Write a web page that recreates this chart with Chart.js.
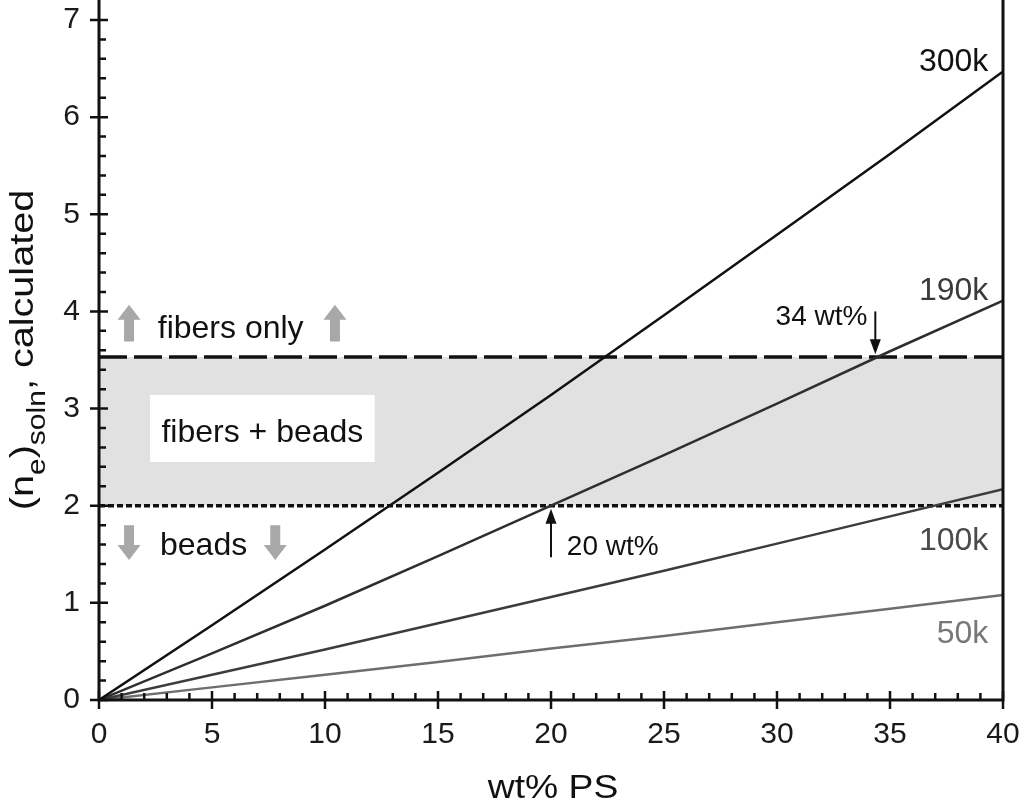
<!DOCTYPE html>
<html><head><meta charset="utf-8">
<script src="https://cdn.jsdelivr.net/npm/chart.js@4/dist/chart.umd.min.js"></script>
<style>html,body{margin:0;padding:0;background:#fff}#wrap{width:1026px;height:807px}</style>
</head><body><div id="wrap"><canvas id="c" width="1026" height="807"></canvas></div>
<script>
// ---- data ----
const wtPS   = [0, 5, 10, 15, 20, 25, 30, 35, 40];
const ne300k = [0, 0.77, 1.55, 2.34, 3.14, 3.96, 4.79, 5.62, 6.47];
const ne190k = [0, 0.48, 0.97, 1.48, 2.00, 2.52, 3.05, 3.59, 4.11];
const ne100k = [0, 0.26, 0.52, 0.79, 1.06, 1.33, 1.61, 1.89, 2.17];
const ne50k  = [0, 0.13, 0.26, 0.39, 0.53, 0.66, 0.80, 0.94, 1.08];
const seriesNames = ['300k', '190k', '100k', '50k'];
const fibersOnlyLevel = 3.53;
const beadsLevel = 2.0;
const bandRange = [0, 40];
const xTickValues = [0, 5, 10, 15, 20, 25, 30, 35, 40];
const yTickValues = [0, 1, 2, 3, 4, 5, 6, 7];
const annot34 = 34.35;
const annot20 = 20;

const FONT = '"Liberation Sans", Arial, sans-serif';
const toXY = (xs, ys) => xs.map((x, i) => ({x: x, y: ys[i]}));
const flat = (v) => bandRange.map(x => ({x: x, y: v}));

const seriesVals = [ne300k, ne190k, ne100k, ne50k];
const seriesColors = ['#111111', '#2e2e2e', '#3c3c3c', '#6e6e6e'];
const labelColors = ['#111111', '#3a3a3a', '#4a4a4a', '#777777'];

const datasets = [
  {label: 'fibers only', data: flat(fibersOnlyLevel), borderColor: '#111', borderWidth: 3.5,
   borderDash: [28, 7], fill: '+1', backgroundColor: '#e1e1e1', pointRadius: 0, order: 10},
  {label: 'beads', data: flat(beadsLevel), borderColor: '#111', borderWidth: 3.5,
   borderDash: [6, 3], fill: false, pointRadius: 0, order: 9}
];
seriesNames.forEach((n, i) => datasets.push({
  label: n, data: toXY(wtPS, seriesVals[i]), borderColor: seriesColors[i],
  borderWidth: 2.5, pointRadius: 0, fill: false, tension: 0, order: 1 + i
}));

function blockArrow(ctx, cx, yTail, yTip, color) {
  const dir = yTip < yTail ? -1 : 1;
  const head = 15, hw = 11.5, sw = 5;
  const yNeck = yTip - dir * head;
  ctx.save();
  ctx.fillStyle = color;
  ctx.beginPath();
  ctx.moveTo(cx - sw, yTail);
  ctx.lineTo(cx - sw, yNeck);
  ctx.lineTo(cx - hw, yNeck);
  ctx.lineTo(cx, yTip);
  ctx.lineTo(cx + hw, yNeck);
  ctx.lineTo(cx + sw, yNeck);
  ctx.lineTo(cx + sw, yTail);
  ctx.closePath();
  ctx.fill();
  ctx.restore();
}
function thinArrow(ctx, cx, yTail, yTip) {
  const dir = yTip < yTail ? -1 : 1;
  ctx.save();
  ctx.strokeStyle = '#111'; ctx.fillStyle = '#111'; ctx.lineWidth = 2;
  ctx.beginPath(); ctx.moveTo(cx, yTail); ctx.lineTo(cx, yTip - dir * 10); ctx.stroke();
  ctx.beginPath(); ctx.moveTo(cx - 5.5, yTip - dir * 15); ctx.lineTo(cx, yTip); ctx.lineTo(cx + 5.5, yTip - dir * 15);
  ctx.closePath(); ctx.fill();
  ctx.restore();
}

const decor = {
  id: 'decor',
  afterDatasetsDraw(chart) {
    const ctx = chart.ctx, xs = chart.scales.x, ys = chart.scales.y;
    const X = v => xs.getPixelForValue(v), Y = v => ys.getPixelForValue(v);
    const a = chart.chartArea;
    ctx.save();
    // white box with "fibers + beads"
    ctx.fillStyle = '#fff';
    ctx.fillRect(X(2.26), Y(3.14), X(12.2) - X(2.26), Y(2.45) - Y(3.14));
    ctx.fillStyle = '#111';
    ctx.font = '32px ' + FONT;
    ctx.textAlign = 'center'; ctx.textBaseline = 'alphabetic';
    ctx.fillText('fibers + beads', (X(2.26) + X(12.2)) / 2, Y(2.66));
    ctx.textAlign = 'left';
    ctx.fillText('fibers only', X(2.6), Y(3.73));
    ctx.fillText('beads', X(2.7), Y(1.49));
    // gray arrows
    blockArrow(ctx, X(1.33), Y(3.69), Y(4.07), '#a8a8a8');
    blockArrow(ctx, X(10.44), Y(3.69), Y(4.07), '#a8a8a8');
    blockArrow(ctx, X(1.33), Y(1.80), Y(1.44), '#a8a8a8');
    blockArrow(ctx, X(7.8), Y(1.80), Y(1.44), '#a8a8a8');
    // annotations
    ctx.font = '28px ' + FONT; ctx.fillStyle = '#111';
    ctx.textAlign = 'right';
    ctx.fillText('34 wt%', X(34.0), Y(3.86));
    thinArrow(ctx, X(annot34), Y(4.0), Y(fibersOnlyLevel + 0.03));
    ctx.textAlign = 'left';
    ctx.fillText('20 wt%', X(20.7), Y(1.49));
    thinArrow(ctx, X(annot20), Y(1.47), Y(beadsLevel - 0.03));
    // series labels
    ctx.font = '32px ' + FONT; ctx.textAlign = 'right';
    const lblY = [6.47, 4.12, 1.545, 0.587];
    seriesNames.forEach((n, i) => { ctx.fillStyle = labelColors[i]; ctx.fillText(n, X(39.35), Y(lblY[i])); });
    // axes frame
    ctx.strokeStyle = '#111'; ctx.lineWidth = 3; ctx.lineCap = 'butt';
    ctx.beginPath();
    ctx.moveTo(a.left, 0); ctx.lineTo(a.left, a.bottom + 1.5);
    ctx.moveTo(a.left - 1.5, a.bottom); ctx.lineTo(a.right + 1.5, a.bottom);
    ctx.moveTo(a.right, 0); ctx.lineTo(a.right, a.bottom + 1.5);
    ctx.stroke();
    // ticks
    ctx.lineWidth = 2.5;
    ctx.beginPath();
    for (let v = 0; v <= 40; v += 1) {
      const px = X(v);
      if (v % 5 === 0) { ctx.moveTo(px, a.bottom + 9); ctx.lineTo(px, a.bottom - 9); }
      else { ctx.moveTo(px, a.bottom); ctx.lineTo(px, a.bottom - 7); }
    }
    for (let k = 0; k <= 35; k++) {
      const v = k / 5, py = Y(v);
      if (k % 5 === 0) { ctx.moveTo(a.left - 9, py); ctx.lineTo(a.left + 9, py); }
      else { ctx.moveTo(a.left, py); ctx.lineTo(a.left + 7, py); }
    }
    ctx.stroke();
    // x title (slightly wide lettering as in the original)
    ctx.save();
    ctx.fillStyle = '#111'; ctx.font = '33px ' + FONT; ctx.textAlign = 'center';
    ctx.translate((a.left + a.right) / 2 + 2, 798); ctx.scale(1.13, 1);
    ctx.fillText('wt% PS', 0, 0);
    ctx.restore();
    // y title with subscripts
    ctx.save();
    ctx.fillStyle = '#111';
    ctx.translate(33, 350); ctx.rotate(-Math.PI / 2); ctx.scale(1.2, 1);
    const parts = [['(n', 33, 0], ['e', 25, 12], [')', 33, 0], ['soln', 25, 12], [', calculated', 33, 0]];
    let total = 0;
    parts.forEach(p => { ctx.font = p[1] + 'px ' + FONT; total += ctx.measureText(p[0]).width; });
    let cx = -total / 2; ctx.textAlign = 'left';
    parts.forEach(p => { ctx.font = p[1] + 'px ' + FONT; ctx.fillText(p[0], cx, p[2]); cx += ctx.measureText(p[0]).width; });
    ctx.restore();
    ctx.restore();
  }
};

new Chart(document.getElementById('c'), {
  type: 'line',
  data: {datasets: datasets},
  options: {
    responsive: false, animation: false, devicePixelRatio: 1,
    layout: {padding: {top: 20, right: 23, left: 0, bottom: 0}},
    plugins: {legend: {display: false}, tooltip: {enabled: false}},
    scales: {
      x: {type: 'linear', min: 0, max: 40,
          afterBuildTicks: s => { s.ticks = xTickValues.map(v => ({value: v})); },
          ticks: {font: {size: 30, family: FONT}, color: '#1a1a1a', padding: 17, maxRotation: 0},
          grid: {display: false, drawTicks: false}, border: {display: false},
          afterFit: s => { s.height = 107; s.paddingLeft = 0; s.paddingRight = 0; }},
      y: {type: 'linear', min: 0, max: 7,
          afterBuildTicks: s => { s.ticks = yTickValues.map(v => ({value: v})); },
          ticks: {font: {size: 30, family: FONT}, color: '#1a1a1a', padding: 19},
          grid: {display: false, drawTicks: false}, border: {display: false},
          afterFit: s => { s.width = 99; s.paddingTop = 0; s.paddingBottom = 0; }}
    }
  },
  plugins: [decor]
});
</script>
</body></html>
